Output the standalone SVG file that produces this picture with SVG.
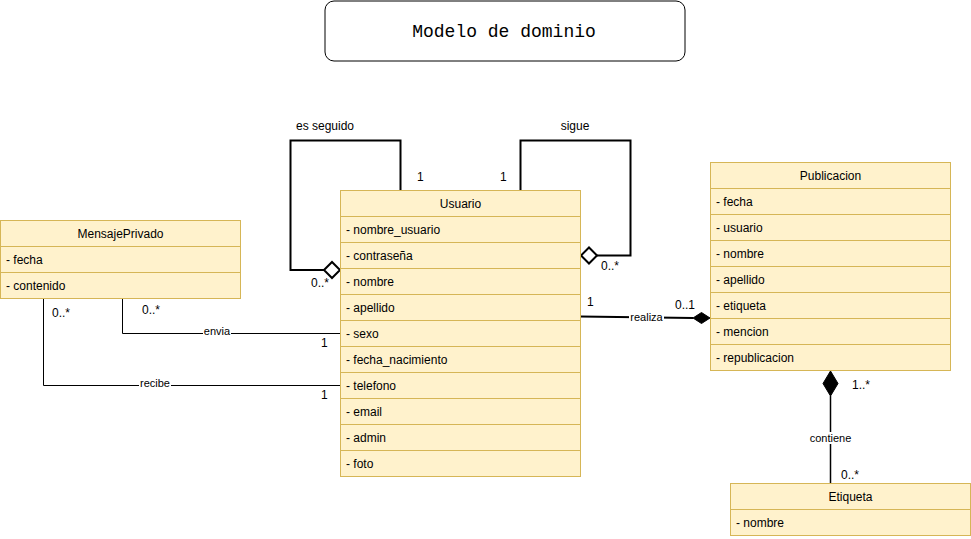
<svg xmlns="http://www.w3.org/2000/svg" width="971" height="539" viewBox="0 0 971 539">
<style>
.box{fill:#fff2cc;stroke:#d6b656;stroke-width:1}
.sep{stroke:#d6b656;stroke-width:1}
.t{font-family:"Liberation Sans",Arial,sans-serif;font-size:12px;fill:#000}
.c{text-anchor:middle}
.lbl{font-family:"Liberation Sans",Arial,sans-serif;font-size:11px;fill:#000;text-anchor:middle}
.lblbg{fill:#fff}
.e{fill:none;stroke:#000}
</style>
<rect width="971" height="539" fill="#fff"/>
<g id="title">
<rect x="325" y="1" width="360" height="60" rx="9" fill="#fff" stroke="#000"/>
<text x="504" y="37" font-family="'Liberation Mono','Courier New',monospace" font-size="18" text-anchor="middle">Modelo de dominio</text>
</g>
<g id="connectors">
<polyline class="e" stroke-width="2" points="400.5,190 400.5,140.5 290.5,140.5 290.5,270 325,270"/>
<polygon points="324,270 332,262 340,270 332,278" fill="#fff" stroke="#000" stroke-width="2"/>
<polyline class="e" stroke-width="2" points="520.5,190 520.5,140.5 630.5,140.5 630.5,255.5 597,255.5"/>
<polygon points="597,255.5 589,247.5 581,255.5 589,263.5" fill="#fff" stroke="#000" stroke-width="2"/>
<polyline class="e" stroke-width="1" points="122.5,298 122.5,333.5 340,333.5"/>
<polyline class="e" stroke-width="1" points="43.5,298 43.5,385.5 340,385.5"/>
<polyline class="e" stroke-width="2" points="580,316.5 693,318"/>
<polygon points="710,318 701.5,312.5 693,318 701.5,323.5" fill="#000" stroke="#000" stroke-width="1"/>
<line class="e" stroke-width="1.5" x1="830.5" y1="396" x2="830.5" y2="483"/>
<polygon points="830.5,371 838,383.5 830.5,396 823,383.5" fill="#000" stroke="#000" stroke-width="1"/>
<rect class="lblbg" x="203" y="326" width="28" height="12"/>
<text class="lbl" x="217" y="335">envia</text>
<rect class="lblbg" x="139" y="378" width="32" height="12"/>
<text class="lbl" x="155" y="387">recibe</text>
<rect class="lblbg" x="629" y="311" width="35" height="12"/>
<text class="lbl" x="646.5" y="321">realiza</text>
<rect class="lblbg" x="809" y="432" width="43" height="12"/>
<text class="lbl" x="830.5" y="442">contiene</text>
<text class="t c" x="325" y="130">es seguido</text>
<text class="t c" x="575" y="130">sigue</text>
<text class="t" x="417" y="181">1</text>
<text class="t" x="500" y="181">1</text>
<text class="t" x="311" y="287">0..*</text>
<text class="t" x="601" y="270">0..*</text>
<text class="t" x="142" y="314">0..*</text>
<text class="t" x="52" y="317">0..*</text>
<text class="t" x="321" y="347">1</text>
<text class="t" x="321" y="399">1</text>
<text class="t" x="587" y="306">1</text>
<text class="t" x="675" y="309">0..1</text>
<text class="t" x="852" y="389">1..*</text>
<text class="t" x="841" y="479">0..*</text>
</g>
<g id="MensajePrivado">
<rect class="box" x="0.5" y="220.5" width="240" height="78"/>
<line class="sep" x1="0.5" y1="246.5" x2="240.5" y2="246.5"/>
<line class="sep" x1="0.5" y1="272.5" x2="240.5" y2="272.5"/>
<text class="t c" x="120.5" y="238">MensajePrivado</text>
<text class="t" x="6" y="264">- fecha</text>
<text class="t" x="6" y="290">- contenido</text>
</g>
<g id="Usuario">
<rect class="box" x="340.5" y="190.5" width="240" height="286"/>
<line class="sep" x1="340.5" y1="216.5" x2="580.5" y2="216.5"/>
<line class="sep" x1="340.5" y1="242.5" x2="580.5" y2="242.5"/>
<line class="sep" x1="340.5" y1="268.5" x2="580.5" y2="268.5"/>
<line class="sep" x1="340.5" y1="294.5" x2="580.5" y2="294.5"/>
<line class="sep" x1="340.5" y1="320.5" x2="580.5" y2="320.5"/>
<line class="sep" x1="340.5" y1="346.5" x2="580.5" y2="346.5"/>
<line class="sep" x1="340.5" y1="372.5" x2="580.5" y2="372.5"/>
<line class="sep" x1="340.5" y1="398.5" x2="580.5" y2="398.5"/>
<line class="sep" x1="340.5" y1="424.5" x2="580.5" y2="424.5"/>
<line class="sep" x1="340.5" y1="450.5" x2="580.5" y2="450.5"/>
<text class="t c" x="460.5" y="208">Usuario</text>
<text class="t" x="346" y="234">- nombre_usuario</text>
<text class="t" x="346" y="260">- contraseña</text>
<text class="t" x="346" y="286">- nombre</text>
<text class="t" x="346" y="312">- apellido</text>
<text class="t" x="346" y="338">- sexo</text>
<text class="t" x="346" y="364">- fecha_nacimiento</text>
<text class="t" x="346" y="390">- telefono</text>
<text class="t" x="346" y="416">- email</text>
<text class="t" x="346" y="442">- admin</text>
<text class="t" x="346" y="468">- foto</text>
</g>
<g id="Publicacion">
<rect class="box" x="710.5" y="162.5" width="240" height="208"/>
<line class="sep" x1="710.5" y1="188.5" x2="950.5" y2="188.5"/>
<line class="sep" x1="710.5" y1="214.5" x2="950.5" y2="214.5"/>
<line class="sep" x1="710.5" y1="240.5" x2="950.5" y2="240.5"/>
<line class="sep" x1="710.5" y1="266.5" x2="950.5" y2="266.5"/>
<line class="sep" x1="710.5" y1="292.5" x2="950.5" y2="292.5"/>
<line class="sep" x1="710.5" y1="318.5" x2="950.5" y2="318.5"/>
<line class="sep" x1="710.5" y1="344.5" x2="950.5" y2="344.5"/>
<text class="t c" x="830.5" y="180">Publicacion</text>
<text class="t" x="716" y="206">- fecha</text>
<text class="t" x="716" y="232">- usuario</text>
<text class="t" x="716" y="258">- nombre</text>
<text class="t" x="716" y="284">- apellido</text>
<text class="t" x="716" y="310">- etiqueta</text>
<text class="t" x="716" y="336">- mencion</text>
<text class="t" x="716" y="362">- republicacion</text>
</g>
<g id="Etiqueta">
<rect class="box" x="730.5" y="483.5" width="240" height="52"/>
<line class="sep" x1="730.5" y1="509.5" x2="970.5" y2="509.5"/>
<text class="t c" x="850.5" y="501">Etiqueta</text>
<text class="t" x="736" y="527">- nombre</text>
</g>
</svg>
